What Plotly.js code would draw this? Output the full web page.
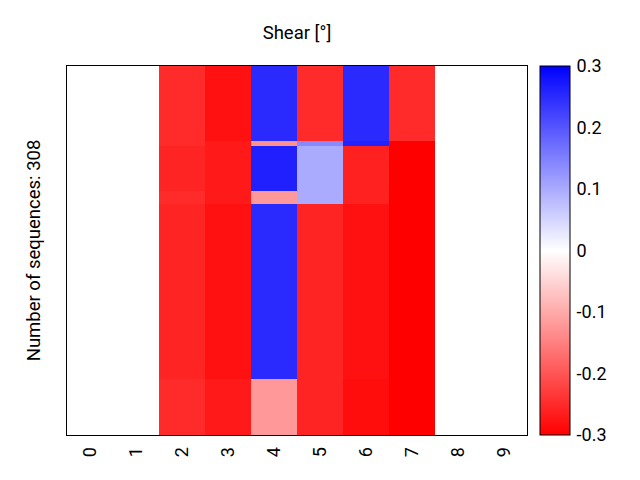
<!DOCTYPE html>
<html>
<head>
<meta charset="utf-8">
<script src="https://cdn.plot.ly/plotly-3.0.1.min.js"></script>
<style>
  body { margin: 0; }
  #chart { width: 640px; height: 480px; }
</style>
</head>
<body>
<div id="chart"></div>
<script>
// columns of the heatmap
const columns = ['0', '1', '2', '3', '4', '5', '6', '7', '8', '9'];

// row groups: edges in number of sequences (top to bottom)
const rowEdges = [0, 63, 67, 104, 115, 261, 308];

// shear values per row group, one value per column
const bandA = [0, 0, -0.25, -0.28, 0.25, -0.25, 0.25, -0.25, 0, 0];
const bandB = [0, 0, -0.25, -0.27, -0.13, 0.14, 0.26, -0.3, 0, 0];
const bandC = [0, 0, -0.258, -0.27, 0.262, 0.1, -0.262, -0.3, 0, 0];
const bandD = [0, 0, -0.25, -0.27, -0.12, 0.1, -0.262, -0.3, 0, 0];
const bandE = [0, 0, -0.258, -0.28, 0.25, -0.258, -0.28, -0.3, 0, 0];
const bandF = [0, 0, -0.25, -0.27, -0.12, -0.258, -0.285, -0.3, 0, 0];

const cbTicks = [0.3, 0.2, 0.1, 0, -0.1, -0.2, -0.3];
const cbLabels = ['0.3', '0.2', '0.1', '0', '-0.1', '-0.2', '-0.3'];

const fontFamily = 'Roboto, "DejaVu Sans", sans-serif';

Plotly.newPlot('chart', [{
    type: 'heatmap',
    x: columns,
    y: rowEdges,
    z: [bandA, bandB, bandC, bandD, bandE, bandF],
    zmin: -0.3,
    zmax: 0.3,
    colorscale: [[0, 'rgb(255,0,0)'], [0.5, 'rgb(255,255,255)'], [1, 'rgb(0,0,255)']],
    colorbar: {
        x: 1.028,
        xanchor: 'left',
        xpad: 0,
        y: 0.5,
        len: 1,
        ypad: 0,
        thickness: 30,
        outlinewidth: 1,
        outlinecolor: 'black',
        ticks: 'outside',
        ticklen: 3,
        tickcolor: 'rgba(0,0,0,0)',
        tickvals: cbTicks,
        ticktext: cbLabels,
        tickfont: {family: fontFamily, size: 18, color: 'black'}
    }
}], {
    width: 640,
    height: 480,
    margin: {l: 67, r: 113, t: 66, b: 45},
    paper_bgcolor: 'white',
    plot_bgcolor: 'white',
    font: {family: fontFamily, size: 18, color: 'black'},
    title: {
        text: 'Shear [°]',
        x: 0.5,
        xref: 'paper',
        y: 1 - 33 / 480,
        yanchor: 'middle',
        font: {family: fontFamily, size: 18.5, color: 'black'}
    },
    xaxis: {
        type: 'category',
        tickangle: -90,
        ticks: '',
        ticklabelstandoff: 4,
        showgrid: false,
        zeroline: false,
        showline: true,
        mirror: true,
        linecolor: 'black',
        linewidth: 1,
        tickfont: {family: fontFamily, size: 18, color: 'black'}
    },
    yaxis: {
        range: [308, 0],
        showticklabels: false,
        ticks: '',
        showgrid: false,
        zeroline: false,
        showline: true,
        mirror: true,
        linecolor: 'black',
        linewidth: 1,
        title: {
            text: 'Number of sequences: 308',
            standoff: 20,
            font: {family: fontFamily, size: 18.5, color: 'black'}
        }
    }
}, {displayModeBar: false});
</script>
</body>
</html>
